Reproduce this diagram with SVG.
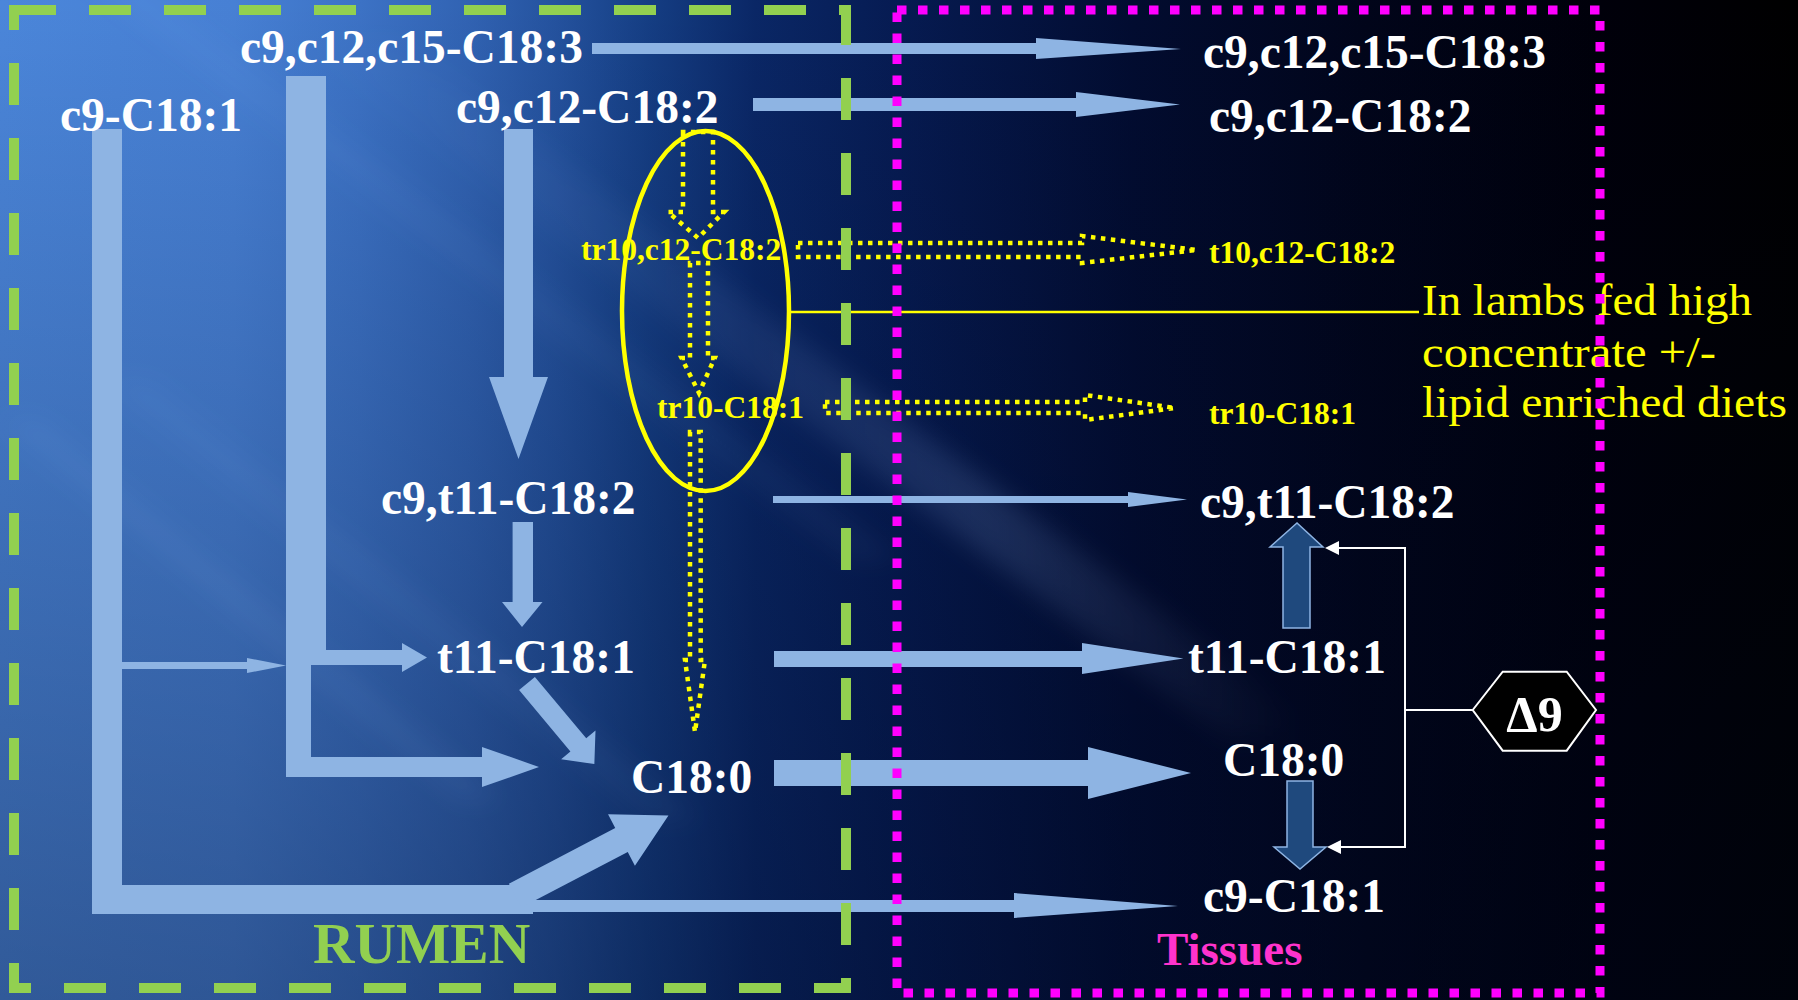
<svg xmlns="http://www.w3.org/2000/svg" width="1798" height="1000" viewBox="0 0 1798 1000">
<defs>
<linearGradient id="bg" x1="0" y1="0" x2="1798" y2="0" gradientUnits="userSpaceOnUse">
<stop offset="0" stop-color="#4b86da"/>
<stop offset="0.13" stop-color="#4780d4"/>
<stop offset="0.2" stop-color="#3c72c5"/>
<stop offset="0.26" stop-color="#3163b3"/>
<stop offset="0.31" stop-color="#24529e"/>
<stop offset="0.36" stop-color="#153e84"/>
<stop offset="0.42" stop-color="#0a2766"/>
<stop offset="0.5" stop-color="#061b52"/>
<stop offset="0.63" stop-color="#020c30"/>
<stop offset="0.76" stop-color="#01051a"/>
<stop offset="0.89" stop-color="#00000a"/>
<stop offset="1" stop-color="#000000"/>
</linearGradient>
<linearGradient id="shade" x1="0" y1="0" x2="0" y2="1000" gradientUnits="userSpaceOnUse">
<stop offset="0" stop-color="#000820" stop-opacity="0"/>
<stop offset="1" stop-color="#000820" stop-opacity="0.35"/>
</linearGradient>
<linearGradient id="beam" x1="250" y1="0" x2="1300" y2="0" gradientUnits="userSpaceOnUse">
<stop offset="0" stop-color="#a0c4ff" stop-opacity="0"/>
<stop offset="0.4" stop-color="#a0c4ff" stop-opacity="0.06"/>
<stop offset="0.7" stop-color="#a0c4ff" stop-opacity="0.15"/>
<stop offset="0.85" stop-color="#a0c4ff" stop-opacity="0.08"/>
<stop offset="1" stop-color="#a0c4ff" stop-opacity="0"/>
</linearGradient>
<filter id="blur" x="-10%" y="-10%" width="120%" height="120%"><feGaussianBlur stdDeviation="12"/></filter>
<style>
.lab{font-family:"Liberation Serif","Times New Roman",serif;font-weight:bold;fill:#ffffff;font-size:47.5px}
.ylab{font-family:"Liberation Serif","Times New Roman",serif;font-weight:bold;fill:#ffff00;font-size:31.5px}
.note{font-family:"Liberation Serif","Times New Roman",serif;fill:#ffff00;font-size:44px}
.ba{fill:#8eb4e3}
.yd{fill:none;stroke:#ffff00;stroke-width:4.5;stroke-dasharray:4.5 5.5}
.da{fill:#1f497d;stroke:#8eb4e3;stroke-width:1.5}
.wl{fill:none;stroke:#ffffff;stroke-width:2}
</style>
</defs>

<g id="background">
<rect x="0" y="0" width="1798" height="1000" fill="url(#bg)"/>
<rect x="0" y="0" width="1798" height="1000" fill="url(#shade)"/>
<g filter="url(#blur)">
<polygon points="300,40 400,40 1330,740 1230,740" fill="url(#beam)"/>
<polygon points="60,-40 110,-40 900,560 850,560" fill="#9cc0ff" opacity="0.05"/>
<polygon points="0,420 40,420 500,800 460,800" fill="#9cc0ff" opacity="0.07"/>
<polygon points="100,380 150,380 700,820 650,820" fill="#9cc0ff" opacity="0.05"/>
</g>
</g>

<g id="connectors">
<rect class="ba" x="92" y="129" width="30" height="756"/>
<rect class="ba" x="92" y="885" width="441" height="29"/>
<rect class="ba" x="286" y="76" width="40" height="574"/>
<rect class="ba" x="286" y="650" width="25" height="127"/>
<polygon class="ba" points="311,650 402,650 402,643 427,657.5 402,672 402,665 311,665"/>
<polygon class="ba" points="311,757 482,757 482,747 539,767 482,787 482,777 311,777"/>
<polygon class="ba" points="122,662 247,662 247,658 286,665.5 247,673 247,669 122,669"/>
<polygon class="ba" points="504,129 533,129 533,377 548,377 518.5,459 489,377 504,377"/>
<polygon class="ba" points="512.6,522 533,522 533,602 542.5,602 522,627 502,602 512.6,602"/>
<polygon class="ba" transform="translate(527,683.5) rotate(50.1)" points="0,-10.3 80,-10.3 80,-22.4 105,0 80,22.4 80,10.3 0,10.3"/>
<polygon class="ba" transform="translate(524,891) rotate(-27.6)" points="-10,-13.5 110,-13.5 110,-29 163,0 110,29 110,13.5 -10,13.5"/>
<polygon class="ba" points="592,43 1036,43 1036,38 1181,49 1036,59 1036,54 592,54"/>
<polygon class="ba" points="753,98 1076,98 1076,92 1180,104.5 1076,117 1076,111 753,111"/>
<polygon class="ba" points="773,496 1128,496 1128,492 1187,499.5 1128,507 1128,503 773,503"/>
<polygon class="ba" points="774,651 1082,651 1082,643 1183.5,658.5 1082,674 1082,667 774,667"/>
<polygon class="ba" points="774,760 1088,760 1088,747 1191,773 1088,799 1088,786 774,786"/>
<polygon class="ba" points="533,900 1014,900 1014,893 1178,906 1014,918 1014,912 533,912"/>
<path class="yd" d="M683,132 L683,212 L668,212 L698,238 L724,212 L713,212 L713,132 Z"/>
<path class="yd" d="M690,263 L690,358 L681.6,358 L699,393 L714.7,358 L708,358 L708,263 Z"/>
<path class="yd" d="M690,432 L690,660 L685,660 L695,732 L705,660 L700.7,660 L700.7,432 Z"/>
<path class="yd" d="M798,243 L1082,243 L1082,236 L1197,250 L1082,263 L1082,257 L798,257 Z"/>
<path class="yd" d="M825,402 L1085,402 L1085,395 L1175,408 L1085,420 L1085,413 L825,413 Z"/>
<polygon class="da" points="1283,628 1283,547 1270,547 1297,523 1323,547 1310,547 1310,628"/>
<polygon class="da" points="1287,781 1313,781 1313,847 1326,847 1300,869 1274,847 1287,847"/>
<path class="wl" d="M1472.7,710 H1405 M1338,548 H1405 V847 H1340"/>
<polygon fill="#ffffff" points="1325,548 1339,541 1339,555"/>
<polygon fill="#ffffff" points="1327,847 1341,840 1341,854"/>
<ellipse cx="705.5" cy="311" rx="83.5" ry="180" fill="none" stroke="#ffff00" stroke-width="4.5"/>
<line x1="789" y1="312" x2="1419" y2="312" stroke="#ffff00" stroke-width="2.5"/>
</g>

<g id="n-rumen-c18-3"><text class="lab" x="240" y="63">c9,c12,c15-C18:3</text></g>
<g id="n-rumen-c9-c18-1"><text class="lab" x="60" y="131">c9-C18:1</text></g>
<g id="n-rumen-c18-2"><text class="lab" x="456" y="123">c9,c12-C18:2</text></g>
<g id="n-rumen-cla"><text class="lab" x="381" y="514">c9,t11-C18:2</text></g>
<g id="n-rumen-t11"><text class="lab" x="437" y="673">t11-C18:1</text></g>
<g id="n-rumen-c18-0"><text class="lab" x="631" y="793">C18:0</text></g>
<g id="n-rumen-tr10c12"><text class="ylab" x="581" y="260">tr10,c12-C18:2</text></g>
<g id="n-rumen-tr10"><text class="ylab" x="657" y="418">tr10-C18:1</text></g>
<g id="n-rumen-label"><text x="313" y="963" style="font-family:'Liberation Serif','Times New Roman',serif;font-weight:bold;font-size:57.5px;fill:#92d050">RUMEN</text></g>

<g id="n-tis-c18-3"><text class="lab" x="1203" y="68">c9,c12,c15-C18:3</text></g>
<g id="n-tis-c18-2"><text class="lab" x="1209" y="132">c9,c12-C18:2</text></g>
<g id="n-tis-t10c12"><text class="ylab" x="1209" y="263">t10,c12-C18:2</text></g>
<g id="n-tis-tr10"><text class="ylab" x="1209" y="424">tr10-C18:1</text></g>
<g id="n-tis-cla"><text class="lab" x="1200" y="518">c9,t11-C18:2</text></g>
<g id="n-tis-t11"><text class="lab" x="1188" y="673">t11-C18:1</text></g>
<g id="n-tis-c18-0"><text class="lab" x="1223" y="776">C18:0</text></g>
<g id="n-tis-c9"><text class="lab" x="1203" y="912">c9-C18:1</text></g>
<g id="n-tis-label"><text x="1157" y="965" style="font-family:'Liberation Serif','Times New Roman',serif;font-weight:bold;font-size:47px;fill:#ff33cc">Tissues</text></g>
<g id="n-delta9">
<polygon points="1472.7,710 1502.7,671.7 1566.7,671.7 1596,710 1566.7,750.7 1502.7,750.7" fill="#000000" stroke="#ffffff" stroke-width="2"/>
<text class="lab" x="1534.5" y="731" text-anchor="middle" style="font-size:50px">Δ9</text>
</g>
<g id="n-note">
<text class="note" x="1422" y="315" textLength="330" lengthAdjust="spacingAndGlyphs">In lambs fed high</text>
<text class="note" x="1422" y="367" textLength="294" lengthAdjust="spacingAndGlyphs">concentrate +/-</text>
<text class="note" x="1422" y="417" textLength="365" lengthAdjust="spacingAndGlyphs">lipid enriched diets</text>
</g>

<g id="borders">
<rect x="14" y="10" width="832" height="978" fill="none" stroke="#92d050" stroke-width="10" stroke-dasharray="42 33"/>
<rect x="897" y="10" width="703" height="983" fill="none" stroke="#ff00ff" stroke-width="9" stroke-dasharray="9.5 11.5"/>
</g>
</svg>
